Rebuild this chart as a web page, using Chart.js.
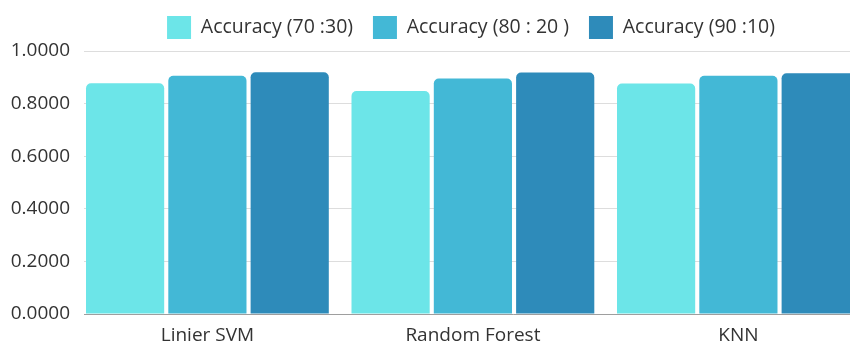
<!DOCTYPE html>
<html>
<head>
<meta charset="utf-8">
<script src="https://cdn.jsdelivr.net/npm/chart.js@4.4.1/dist/chart.umd.min.js"></script>
<style>
  html, body { margin: 0; padding: 0; background: #ffffff; overflow: hidden; }
  #wrap { width: 850px; height: 343px; overflow: hidden; }
</style>
</head>
<body>
<div id="wrap"><canvas id="chart"></canvas></div>
<script>
// Classifier accuracy for three train/test splits
const categories = ['Linier SVM', 'Random Forest', 'KNN'];
const seriesNames = ['Accuracy (70 :30)', 'Accuracy (80 : 20 )', 'Accuracy (90 :10)'];
const acc7030 = [0.877, 0.848, 0.876];
const acc8020 = [0.906, 0.895, 0.906];
const acc9010 = [0.919, 0.918, 0.915];
const yTicks = [0, 0.2, 0.4, 0.6, 0.8, 1.0];

const colors = ['#6ce5e8', '#43b8d6', '#2e8bba'];
const FONT = '"Open Sans", "Noto Sans", sans-serif';
const FS_LEGEND = 19.5;
const FS_Y = 19;
const FS_X = 19;
const LEGEND_PAD = 16;
const LEGEND_GAP = 20;
const BOX_W = 24;
const BOX_H = 23;

// spacer appended to legend texts so the items sit further apart
function measure(t) {
  const c = document.createElement('canvas').getContext('2d');
  c.font = FS_LEGEND + 'px ' + FONT;
  return c.measureText(t).width;
}
const spaceW = measure('\u200A');
const extra = Math.max(0, Math.round((LEGEND_GAP - LEGEND_PAD) / spaceW));
const legendTexts = seriesNames.map((s, i) => i < seriesNames.length - 1 ? s + '\u200A'.repeat(extra) : s);

// canvas is wider than the window so that the legend centres over the plot
const lineW = legendTexts.reduce((a, t) => a + BOX_W + FS_LEGEND / 2 + measure(t) + LEGEND_PAD, 0);
const LEGEND_START = 167;
const W = Math.round(2 * LEGEND_START - LEGEND_PAD + lineW);
const H = 343;

const PLOT_LEFT = 84;
const PLOT_TOP = 51;
const PLOT_BOTTOM = 314;
const UNIT = 265.5;                 // px per category
const X_MIN = -(207.4 - PLOT_LEFT) / UNIT;
const X_MAX = X_MIN + (W - PLOT_LEFT) / UNIT;

const canvas = document.getElementById('chart');
canvas.width = W; canvas.height = H;
canvas.style.width = W + 'px'; canvas.style.height = H + 'px';

const series = [acc7030, acc8020, acc9010];
const datasets = series.map((vals, s) => ({
  label: legendTexts[s],
  data: vals.map((v, i) => ({ x: i, y: v })),
  backgroundColor: colors[s],
  borderWidth: 0,
  borderRadius: { topLeft: 5, topRight: 5, bottomLeft: 0, bottomRight: 0 },
  borderSkipped: 'start',
  categoryPercentage: 0.93,
  barPercentage: 0.95
}));

const legendHeight = {
  id: 'legendHeight',
  beforeInit(chart) {
    if (!chart.legend) return;
    const fit = chart.legend.fit;
    chart.legend.fit = function () {
      fit.call(this);
      this.height = PLOT_TOP;
    };
  }
};

Chart.defaults.font.family = FONT;
Chart.defaults.color = '#333333';

new Chart(canvas, {
  type: 'bar',
  data: { datasets },
  plugins: [legendHeight],
  options: {
    responsive: false,
    animation: false,
    devicePixelRatio: 1,
    layout: { padding: 0 },
    plugins: {
      legend: {
        display: true,
        position: 'top',
        labels: {
          boxWidth: BOX_W,
          boxHeight: BOX_H,
          padding: LEGEND_PAD,
          color: '#333333',
          font: { size: FS_LEGEND, family: FONT }
        }
      },
      tooltip: { enabled: false }
    },
    scales: {
      x: {
        type: 'linear',
        min: X_MIN,
        max: X_MAX,
        offset: false,
        afterFit(scale) { scale.height = H - PLOT_BOTTOM; },
        grid: { display: false, drawTicks: false },
        border: { display: true, color: '#9e9e9e', width: 1 },
        ticks: {
          stepSize: 1,
          includeBounds: false,
          autoSkip: false,
          maxRotation: 0,
          padding: 10,
          color: '#333333',
          font: { size: FS_X, family: FONT },
          callback: (v) => Number.isInteger(v) && categories[v] !== undefined ? categories[v] : ''
        }
      },
      y: {
        min: 0,
        max: 1,
        afterFit(scale) { scale.width = PLOT_LEFT; },
        afterBuildTicks(scale) { scale.ticks = yTicks.map(v => ({ value: v })); },
        grid: { color: '#dddddd', lineWidth: 1, drawTicks: false },
        border: { display: false },
        ticks: {
          padding: 14,
          color: '#333333',
          font: { size: FS_Y, family: FONT },
          callback: (v) => Number(v).toFixed(4)
        }
      }
    }
  }
});
</script>
</body>
</html>
